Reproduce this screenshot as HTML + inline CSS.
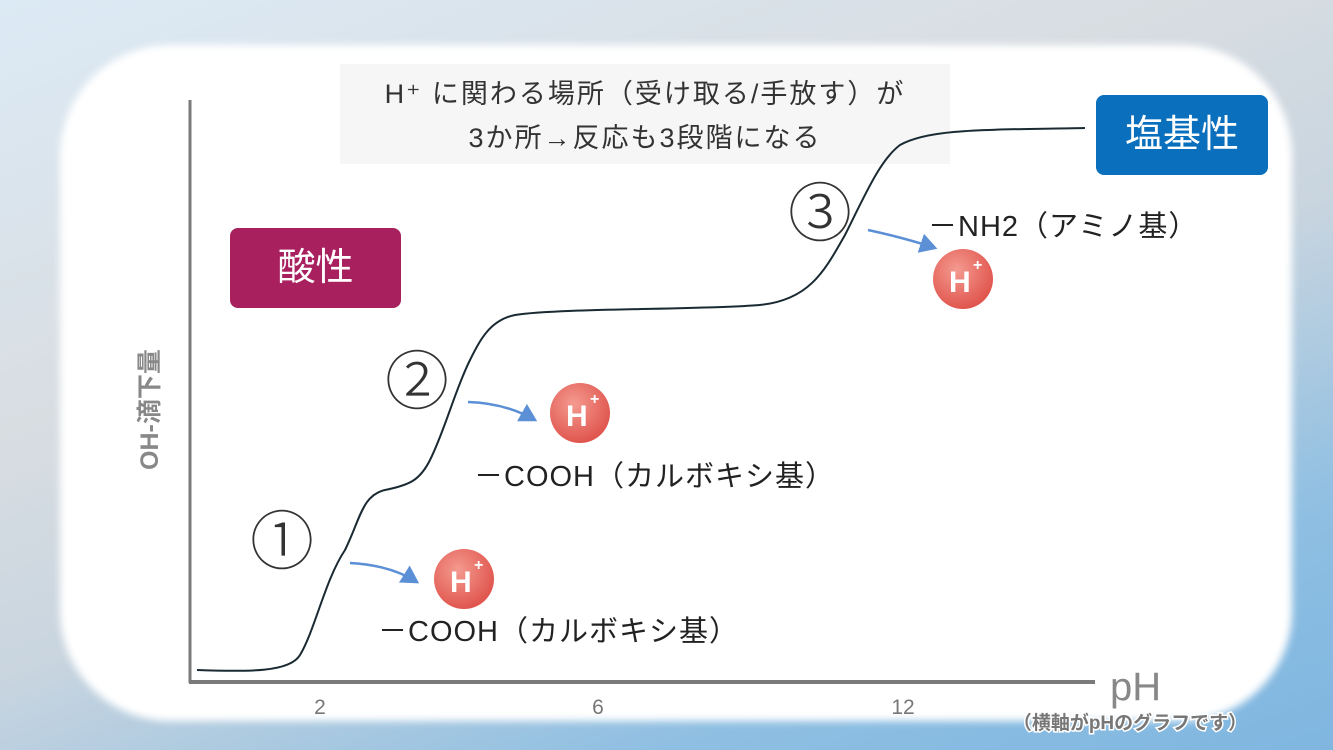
<!DOCTYPE html>
<html><head><meta charset="utf-8"><style>
body{margin:0;width:1333px;height:750px;overflow:hidden;position:relative;font-family:"Liberation Sans","Noto Sans CJK JP",sans-serif;
background:linear-gradient(160deg,#dceaf5 0%,#d8dde2 35%,#c9d5df 55%,#8fbfe2 80%,#7fb6e0 100%);}
.panel{position:absolute;left:60px;top:45px;width:1232px;height:676px;background:#fff;border-radius:110px;filter:blur(4px);}
.t{position:absolute;white-space:nowrap;}
</style></head><body>
<div class="panel"></div>
<div class="t" style="left:340px;top:64px;width:610px;height:100px;background:#f6f6f6;"></div>
<div class="t" style="left:340px;top:72px;width:610px;text-align:center;font-size:27px;color:#333;line-height:44px;letter-spacing:2px">H⁺ に関わる場所（受け取る/手放す）が<br>3か所→反応も3段階になる</div>
<div class="t" style="left:230px;top:228px;width:171px;height:80px;background:#a8205e;border-radius:8px;color:#fff;font-size:38px;line-height:80px;text-align:center">酸性</div>
<div class="t" style="left:1096px;top:95px;width:172px;height:80px;background:#0a6fbc;border-radius:8px;color:#fff;font-size:38px;line-height:80px;text-align:center">塩基性</div>
<svg width="1333" height="750" style="position:absolute;left:0;top:0">
<defs><radialGradient id="g" cx="40%" cy="35%" r="65%"><stop offset="0" stop-color="#f49a90"/><stop offset="1" stop-color="#e0564e"/></radialGradient>
<marker id="a" markerWidth="8" markerHeight="8" refX="6" refY="4" orient="auto"><path d="M0,0 L7,4 L0,8 Z" fill="#5b8fd6"/></marker></defs>
<line x1="190" y1="100" x2="190" y2="683" stroke="#7a7a7a" stroke-width="3"/>
<line x1="189" y1="682" x2="1095" y2="682" stroke="#7a7a7a" stroke-width="4"/>
<path d="M197,670 C250,672 290,672 300,655 C315,630 325,580 345,550 C360,520 362,495 385,490 C410,485 420,480 430,460 C445,430 455,390 470,360 C480,340 490,320 515,315 C560,308 700,310 760,305 C810,300 825,270 845,235 C865,195 880,160 900,145 C930,128 990,130 1085,128" fill="none" stroke="#1a2a33" stroke-width="2"/>
<g stroke="#5b8fd6" stroke-width="2.5" fill="none" marker-end="url(#a)">
<path d="M350,563 Q390,565 417,582"/><path d="M468,402 Q505,403 535,420"/><path d="M868,230 Q905,238 935,248"/></g>
<g font-family="Liberation Sans,sans-serif" font-weight="bold" fill="#fff">
<circle cx="464" cy="579" r="30" fill="url(#g)"/><text x="450" y="592" font-size="30">H</text><text x="474" y="570" font-size="16">+</text>
<circle cx="580" cy="413" r="30" fill="url(#g)"/><text x="566" y="426" font-size="30">H</text><text x="590" y="404" font-size="16">+</text>
<circle cx="963" cy="279" r="30" fill="url(#g)"/><text x="949" y="292" font-size="30">H</text><text x="973" y="270" font-size="16">+</text>
</g>
<g fill="#333" font-size="64" font-weight="300" font-family="Noto Sans CJK JP,sans-serif"><text x="250" y="564">①</text><text x="385" y="404">②</text><text x="788" y="236">③</text></g>
<text x="158" y="470" transform="rotate(-90 158 470)" fill="#888" font-size="25" font-weight="bold" font-family="Liberation Sans,Noto Sans CJK JP,sans-serif">OH-滴下量</text>
<g fill="#777" font-size="21" text-anchor="middle"><text x="320" y="714">2</text><text x="598" y="714">6</text><text x="903" y="714">12</text></g>
<text x="1110" y="700" fill="#888" font-size="40">pH</text>
<text x="1130" y="729" text-anchor="middle" fill="#777" stroke="#fff" stroke-width="3" paint-order="stroke" font-size="19" font-family="Liberation Sans,Noto Sans CJK JP,sans-serif" font-weight="bold">（横軸がpHのグラフです）</text>
</svg>
<div class="t" style="left:378px;top:608px;font-size:29px;color:#222;letter-spacing:1px">－COOH（カルボキシ基）</div>
<div class="t" style="left:474px;top:453px;font-size:29px;color:#222;letter-spacing:1px">－COOH（カルボキシ基）</div>
<div class="t" style="left:928px;top:203px;font-size:29px;color:#222;letter-spacing:1px">－NH2（アミノ基）</div>
</body></html>
